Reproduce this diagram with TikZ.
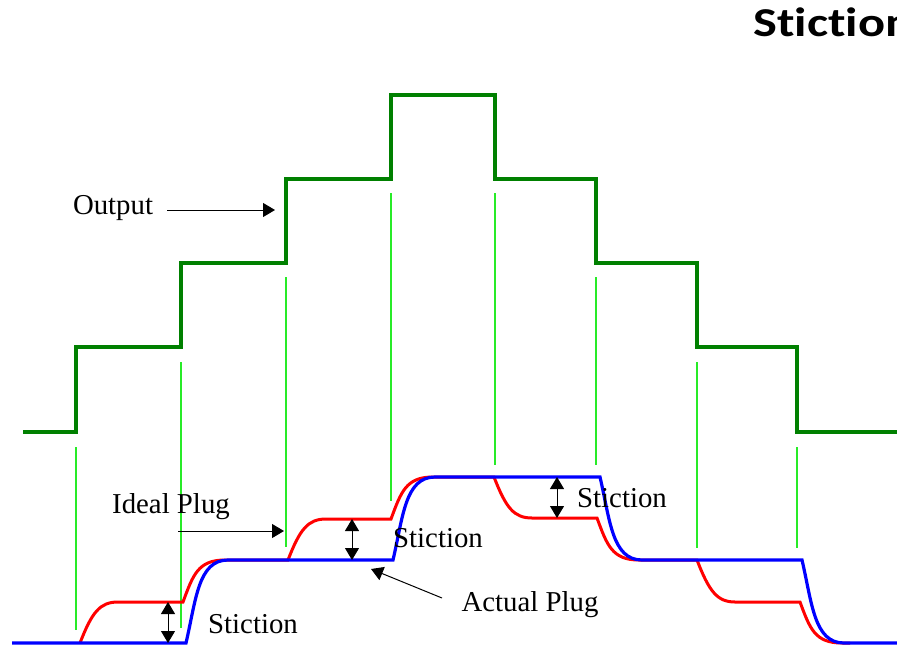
\documentclass[tikz,border=0pt]{standalone}
\usepackage{fontspec}
\setmainfont{Liberation Serif}
\newfontfamily\titlefont[Ligatures={NoCommon}]{Carlito}
\usetikzlibrary{arrows.meta,positioning}
\definecolor{outgreen}{RGB}{0,128,0}
\definecolor{gridgreen}{RGB}{40,235,40}

\begin{document}
\begin{tikzpicture}[x=0.5pt, y=-0.5pt,
    lbl/.style={font=\fontsize{14.4}{17}\selectfont, inner sep=0pt},
    ptr/.style={-{Triangle[width=7pt,length=6pt]}, line width=0.5pt},
    gap/.style={{Triangle[width=7pt,length=6pt]}-{Triangle[width=7pt,length=6pt]}, line width=0.5pt},
    gridline/.style={gridgreen, line width=0.8pt},
    outstep/.style={outgreen, line width=1.7pt},
    idealplug/.style={red, line width=1.5pt},
    actualplug/.style={blue, line width=1.6pt}]

    \useasboundingbox (0,0) rectangle (897,647);
    \clip (0,0) rectangle (897,647);

    % title, cut at the right edge
    \node[anchor=west, inner sep=0pt, font=\titlefont\bfseries\fontsize{20.5}{24}\selectfont] (title) at (753,22) {\scalebox{1.23}[1]{Stiction}};

    % output staircase
    \draw[outstep] (23,432) -- (76,432) -- (76,347) -- (181,347) -- (181,263) -- (286,263)
        -- (286,179) -- (391,179) -- (391,95) -- (495,95) -- (495,179) -- (596,179)
        -- (596,263) -- (697,263) -- (697,347) -- (797,347) -- (797,432) -- (897,432);

    % step markers
    \draw[gridline] (76,447) -- (76,630);
    \draw[gridline] (181,362) -- (181,628);
    \draw[gridline] (286,277) -- (286,547);
    \draw[gridline] (391,193) -- (391,501);
    \draw[gridline] (495,193) -- (495,465);
    \draw[gridline] (596,277) -- (596,465);
    \draw[gridline] (697,362) -- (697,548);
    \draw[gridline] (797,447) -- (797,548);

    % ideal plug
    \draw[idealplug] (80,643)
        .. controls (92,612) and (100,602) .. (118,602) -- (183,602)
        .. controls (193,575) and (198,560) .. (225,560) -- (288,560)
        .. controls (300,529) and (308,519) .. (326,519) -- (391,519)
        .. controls (401,492) and (406,477) .. (433,477) -- (494,477)
        .. controls (506,508) and (514,518) .. (532,518) -- (597,518)
        .. controls (607,545) and (612,560) .. (639,560) -- (697,560)
        .. controls (709,591) and (717,602) .. (735,602) -- (800,602)
        .. controls (810,629) and (815,643) .. (842,643) -- (850,643);

    % actual plug
    \draw[actualplug] (12,643) -- (186,643)
        .. controls (196,600) and (198,560) .. (228,560) -- (393,560)
        .. controls (403,517) and (405,477) .. (435,477) -- (600,477)
        .. controls (610,520) and (612,560) .. (642,560) -- (802,560)
        .. controls (812,603) and (814,643) .. (844,643) -- (897,643);

    % labels
    \node[lbl] (outlbl) at (113,208) {Output};
    \node[lbl] (ideallbl) at (171,507) {Ideal Plug};
    \node[lbl] (actuallbl) at (530,605) {Actual Plug};
    \node[lbl] (stic1) at (253,624) {Stiction};
    \node[lbl] (stic2) at (438,538) {Stiction};
    \node[lbl] (stic3) at (622,498) {Stiction};

    \coordinate (outtip) at (275,210);
    \coordinate (idealtail) at (178,531);
    \coordinate (idealtip) at (284,531);
    \coordinate (actualtail) at (442,598);
    \coordinate (actualtip) at (371,569);

    \draw[ptr, shorten <=7pt] (outlbl.east |- outtip) -- (outtip);
    \draw[ptr] (idealtail) -- (idealtip);
    \draw[ptr] (actualtail) -- (actualtip);

    % stiction gaps
    \coordinate (gap1t) at (168,602);
    \coordinate (gap1b) at (168,643);
    \coordinate (gap2t) at (352,519);
    \coordinate (gap2b) at (352,560);
    \coordinate (gap3t) at (557,477);
    \coordinate (gap3b) at (557,518);
    \draw[gap] (gap1t) -- (gap1b);
    \draw[gap] (gap2t) -- (gap2b);
    \draw[gap] (gap3t) -- (gap3b);
\end{tikzpicture}
\end{document}
